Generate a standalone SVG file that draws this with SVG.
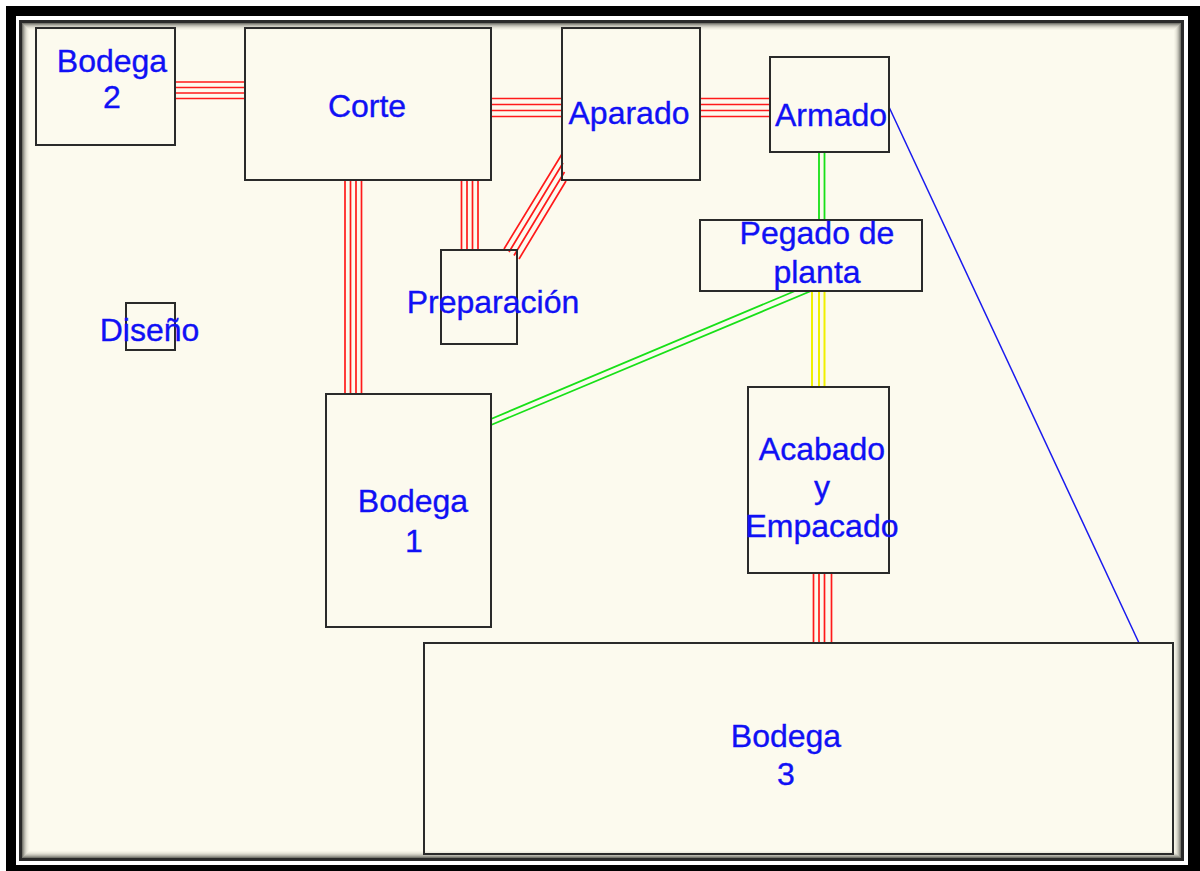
<svg xmlns="http://www.w3.org/2000/svg" width="1200" height="871" viewBox="0 0 1200 871">
<style>
.box{fill:none;stroke:#2a2a2a;stroke-width:2}
.lbl{font-family:"Liberation Sans",Arial,sans-serif;font-size:32px;fill:#1010f5;stroke:#1010f5;stroke-width:0.35;text-anchor:middle}
.r{stroke:#ff1a1a;stroke-width:1.7;fill:none}
.g{stroke:#18e018;stroke-width:1.8;fill:none}
.y{stroke:#f0f000;stroke-width:2;fill:none}
.b{stroke:#1a1aee;stroke-width:1.5;fill:none}
</style>
<g id="frame">
<rect x="0" y="0" width="1200" height="871" fill="#ffffff"/>
<rect x="6" y="6" width="1194" height="865" fill="#000000"/>
<rect x="16" y="16" width="1172" height="849" fill="#ffffff"/>
<rect x="19" y="20" width="1165" height="841" fill="#2a2a2a"/>
<rect x="22" y="23" width="1159" height="835" fill="#fcfaee"/>
<g fill="none" stroke-width="1">
<rect x="22.5" y="23.5" width="1158" height="834" stroke="#77776f"/>
<rect x="23.5" y="24.5" width="1156" height="832" stroke="#9a9990"/>
<rect x="24.5" y="25.5" width="1154" height="830" stroke="#b7b6ac"/>
<rect x="25.5" y="26.5" width="1152" height="828" stroke="#cfcdc2"/>
<rect x="26.5" y="27.5" width="1150" height="826" stroke="#e1dfd4"/>
<rect x="27.5" y="28.5" width="1148" height="824" stroke="#eeecdf"/>
<rect x="28.5" y="29.5" width="1146" height="822" stroke="#f6f4e8"/>
</g>
</g>
<g id="connectors">
<path class="r" d="M175 82H245M175 87.5H245M175 93H245M175 98.5H245"/>
<path class="r" d="M491 98.5H562M491 104.5H562M491 110.5H562M491 116.5H562"/>
<path class="r" d="M700 98.5H770M700 104.5H770M700 110.5H770M700 116.5H770"/>
<path class="r" d="M345 180V394M350.5 180V394M356 180V394M361.5 180V394"/>
<path class="r" d="M461.5 180V250M467 180V250M472.5 180V250M478 180V250"/>
<path class="r" d="M504 249L562 154M509 252L563 163M514 255.5L564.5 172M519 259L566 181"/>
<path class="g" d="M819 152V220M824.5 152V220"/>
<path class="y" d="M812 291V387M819 291V387M824.5 291V387"/>
<path class="g" d="M491 419L795 291M491 425L811 291"/>
<path class="r" d="M813.5 573V643M819 573V643M824.5 573V643M831.5 573V643"/>
<path class="b" d="M889 107L1139 643"/>
</g>
<g id="bodega2">
<rect class="box" x="36" y="28" width="139" height="117"/>
<text class="lbl" x="112" y="72">Bodega</text>
<text class="lbl" x="112" y="108">2</text>
</g>
<g id="corte">
<rect class="box" x="245" y="28" width="246" height="152"/>
<text class="lbl" x="367" y="117">Corte</text>
</g>
<g id="aparado">
<rect class="box" x="562" y="28" width="138" height="152"/>
<text class="lbl" x="629" y="124">Aparado</text>
</g>
<g id="armado">
<rect class="box" x="770" y="57" width="119" height="95"/>
<text class="lbl" x="831" y="126">Armado</text>
</g>
<g id="pegado">
<rect class="box" x="700" y="220" width="222" height="71"/>
<text class="lbl" x="817" y="244">Pegado de</text>
<text class="lbl" x="817" y="283">planta</text>
</g>
<g id="preparacion">
<rect class="box" x="441" y="250" width="76" height="94"/>
<text class="lbl" x="493" y="313">Preparación</text>
</g>
<g id="diseno">
<rect class="box" x="126" y="303" width="49" height="47"/>
<text class="lbl" x="149.5" y="341">Diseño</text>
</g>
<g id="bodega1">
<rect class="box" x="326" y="394" width="165" height="233"/>
<text class="lbl" x="413" y="512">Bodega</text>
<text class="lbl" x="414" y="552">1</text>
</g>
<g id="acabado">
<rect class="box" x="748" y="387" width="141" height="186"/>
<text class="lbl" x="822" y="460">Acabado</text>
<text class="lbl" x="822" y="498">y</text>
<text class="lbl" x="822" y="537">Empacado</text>
</g>
<g id="bodega3">
<rect class="box" x="424" y="643" width="749" height="211"/>
<text class="lbl" x="786" y="747">Bodega</text>
<text class="lbl" x="786" y="785">3</text>
</g>
</svg>
